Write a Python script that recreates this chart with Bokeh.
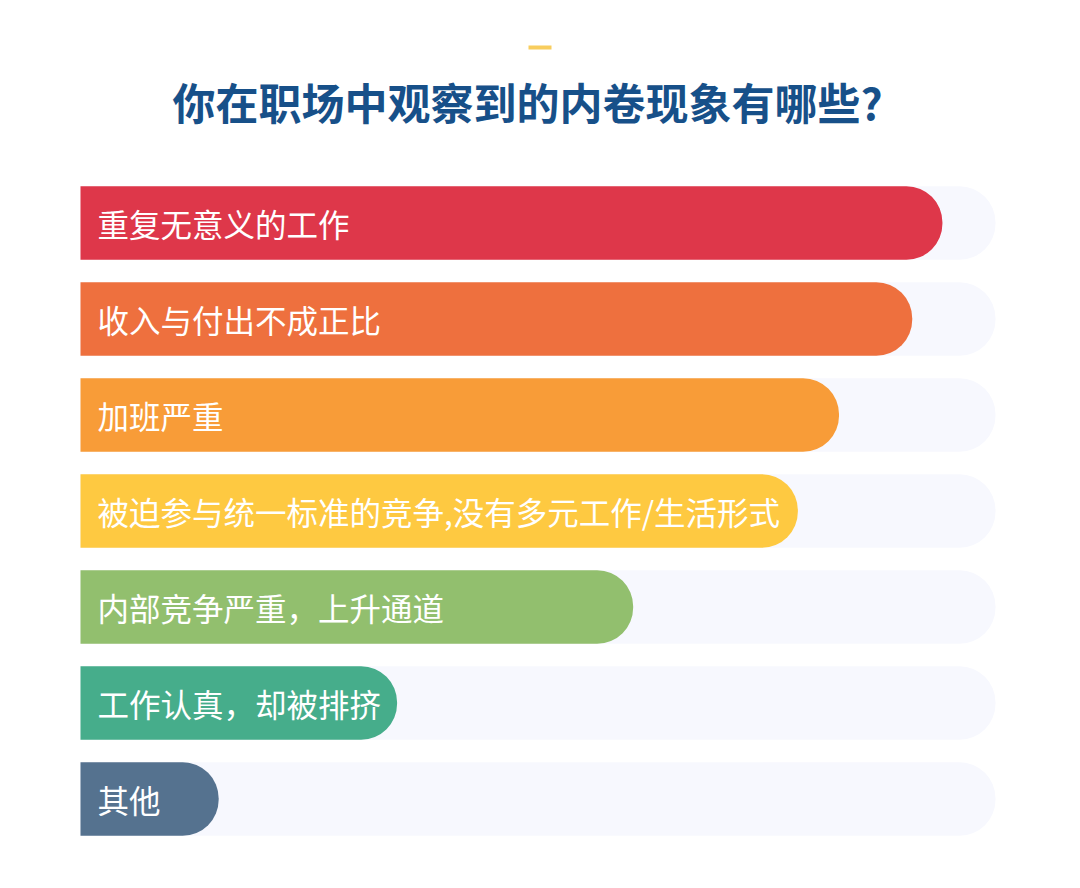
from bokeh.plotting import figure
from bokeh.models import Range1d, ColumnDataSource
from bokeh.core.properties import value
from bokeh.embed import file_html
from bokeh.resources import INLINE

# ---- data ----
categories = [
    "重复无意义的工作",
    "收入与付出不成正比",
    "加班严重",
    "被迫参与统一标准的竞争,没有多元工作/生活形式",
    "内部竞争严重，上升通道",
    "工作认真，却被排挤",
    "其他",
]
values = [94.2, 90.9, 82.9, 78.4, 60.4, 34.6, 15.1]
track_max = 100
colors = ["#de374a", "#ee703e", "#f89c38", "#fec941", "#92bf6e", "#46ad8b", "#55728f"]
title_text = "你在职场中观察到的内卷现象有哪些?"

# ---- layout helpers (page pixel -> data) ----
W, H = 1064, 872
PAGE = 0
track_left_px = 80
px_per_unit = 915 / track_max
row_px = 96
row0_center_px = 222.5


def xd(px):
    return (px - track_left_px) / px_per_unit


def yd(px):
    return (px - row0_center_px) / row_px


p = figure(
    width=W, height=H,
    x_range=Range1d(xd(PAGE), xd(PAGE + W)),
    y_range=Range1d(yd(PAGE + H), yd(PAGE)),
    output_backend="svg", toolbar_location=None, min_border=0,
)
p.axis.visible = False
p.grid.visible = False
p.outline_line_color = None
p.background_fill_color = "white"
p.border_fill_color = "white"

rows = list(range(len(categories)))
src = ColumnDataSource(dict(
    y=rows, v=values, c=colors, label=categories,
    track=[track_max] * len(rows),
    lx=[xd(97)] * len(rows),
))

bar_h = 73.5 / row_px
p.hbar(y="y", left=0, right="track", height=bar_h, source=src,
       fill_color="#f7f8fe", line_color=None, border_radius=(0, 36, 36, 0))
p.hbar(y="y", left=0, right="v", height=bar_h, source=src,
       fill_color="c", line_color=None, border_radius=(0, 36, 36, 0))
p.text(x="lx", y="y", text="label", source=src, text_color="white",
       text_font=value("Noto Sans CJK SC"), text_font_size="31.5px",
       text_baseline="middle", text_align="left")

# title and accent line
p.segment(x0=[xd(528)], x1=[xd(551)], y0=[yd(47)], y1=[yd(47)],
          line_color="#f8cd5e", line_width=4)
p.text(x=[xd(527)], y=[yd(100)], text=[title_text], text_color="#175089",
       text_font=value("Noto Sans CJK SC"), text_font_size="43px",
       text_font_style="bold", text_align="center", text_baseline="middle")

open("out.html", "w").write(file_html(p, INLINE))
